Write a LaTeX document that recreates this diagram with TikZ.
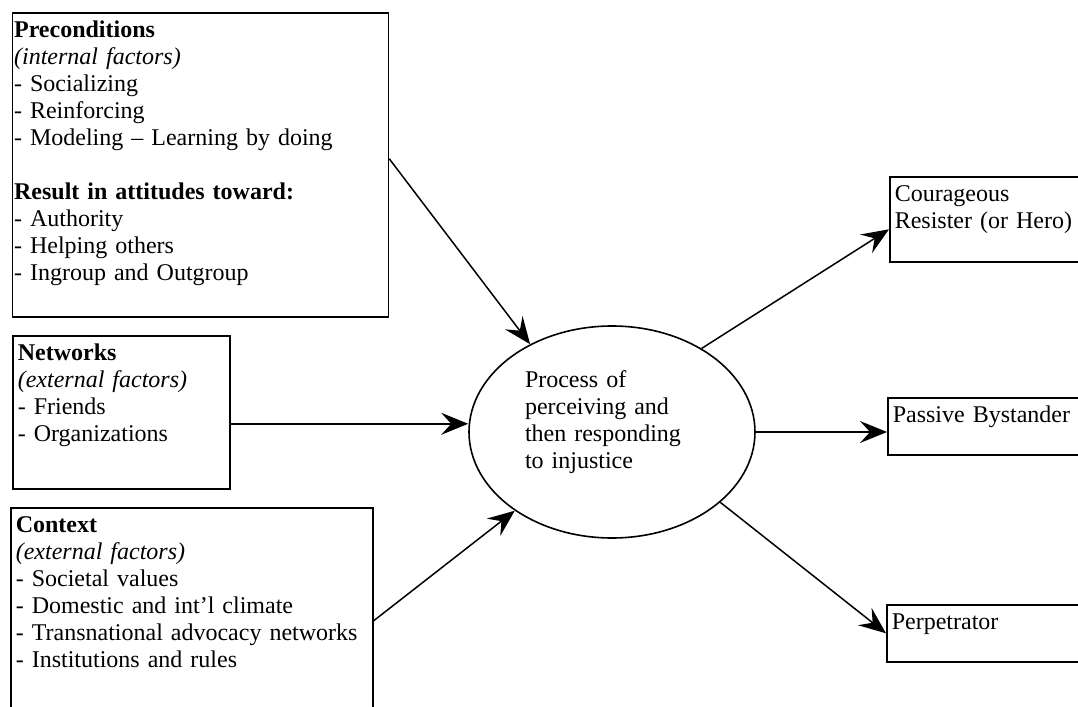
\documentclass[tikz,border=0pt]{standalone}
\usepackage{fontspec}
\setmainfont{Liberation Serif}
\usepackage{tikz}
\usetikzlibrary{arrows.meta,shapes.geometric}
\tikzset{factor/.style={draw,line width=.8pt,anchor=north west,align=left,inner xsep=2.5pt,inner ysep=3pt,text height=9.5pt,font=\fontsize{12}{13.5}\selectfont},outcome/.style={factor,text width=105pt},process/.style={draw,ellipse,line width=.8pt,minimum width=143pt,minimum height=106pt,inner sep=0pt,align=left,text width=87pt,text height=5pt,text depth=50pt,font=\fontsize{12}{13.5}\selectfont},flow/.style={-{Stealth[length=13.5pt,width=11pt,inset=5pt]},line width=.75pt}}
\begin{document}
\begin{tikzpicture}[x=.5pt,y=-.5pt]
\useasboundingbox (0,0) rectangle (1078,707);
% factors on the left
\node[factor,inner xsep=.8pt,text width=186.4pt,text depth=136.5pt] (pre) at (11.7,12) {\textbf{Preconditions}\\\textit{(internal factors)}\\- Socializing\\- Reinforcing\\- Modeling – Learning by doing\\[13.5pt]\textbf{Result in attitudes toward:}\\- Authority\\- Helping others\\- Ingroup and Outgroup};
\node[factor,text width=103.5pt,text depth=61pt] (net) at (12,335) {\textbf{Networks}\\\textit{(external factors)}\\- Friends\\- Organizations};
\node[factor,text width=176pt,text depth=97.5pt] (ctx) at (10,507) {\textbf{Context}\\\textit{(external factors)}\\- Societal values\\- Domestic and int’l climate\\- Transnational advocacy networks\\- Institutions and rules};
% process
\node[process] (proc) at (612,432) {Process of\\perceiving and\\then responding\\to injustice};
% outcomes
\node[outcome,text depth=27pt] (hero) at (889,176) {Courageous\\Resister (or Hero)};
\node[outcome,text depth=13pt] (bystander) at (887,397) {Passive Bystander};
\node[outcome,text depth=13pt] (perp) at (886,604) {Perpetrator};
\draw[flow] ([yshift=3pt]pre.east)--(proc.133);
\draw[flow] ([yshift=-5.75pt]net.east)--([yshift=-5.75pt]net.east-|proc.west);
\draw[flow] (ctx.east)--(proc.219);
\draw[flow] (proc.43)--([yshift=-5pt]hero.west);
\draw[flow] (proc.east)--(proc.east-|bystander.west);
\draw[flow] (proc.-33)--(perp.west);
\end{tikzpicture}
\end{document}
